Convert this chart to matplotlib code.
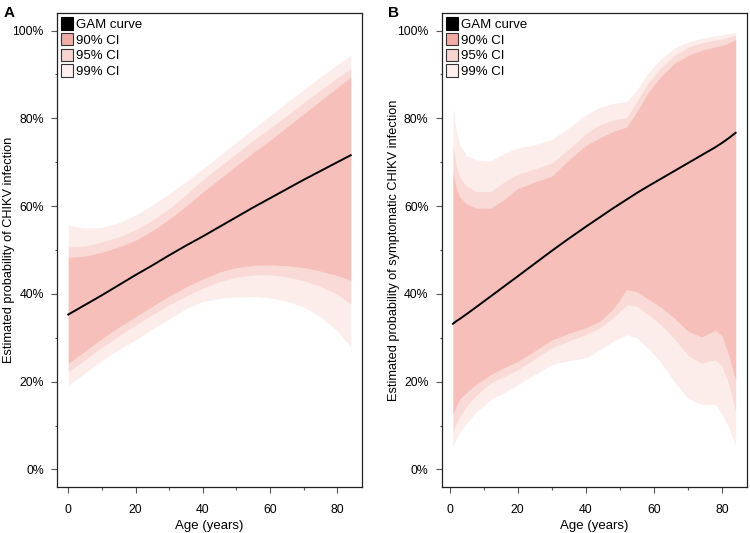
import matplotlib
matplotlib.use("Agg")
import matplotlib.pyplot as plt
from matplotlib.patches import Patch
from matplotlib.ticker import MultipleLocator, FuncFormatter

plt.rcParams['font.family'] = ['Liberation Sans', 'DejaVu Sans']

# Panel A: probability of CHIKV infection
age_a = [0, 5, 10, 15, 20, 25, 30, 35, 40, 45, 50, 55, 60, 65, 70, 75, 80, 84]
gam_a = [35.3, 37.5, 39.7, 42.0, 44.3, 46.5, 48.8, 51.0, 53.1, 55.3, 57.5, 59.7, 61.8, 63.9, 66.0, 68.0, 70.0, 71.6]
up90_a = [48.3, 48.6, 49.5, 50.7, 52.2, 54.4, 57.0, 60.0, 63.2, 66.2, 69.2, 72.2, 75.0, 78.0, 81.0, 84.0, 87.0, 89.4]
up95_a = [50.7, 50.9, 51.8, 53.0, 54.6, 56.8, 59.4, 62.6, 66.0, 69.0, 72.0, 75.0, 77.8, 80.6, 83.6, 86.4, 89.2, 91.3]
up99_a = [55.6, 55.0, 55.2, 56.2, 58.0, 60.2, 62.8, 65.6, 68.5, 71.5, 74.6, 77.6, 80.6, 83.6, 86.6, 89.4, 92.2, 94.3]
lo90_a = [24.2, 27.0, 29.8, 32.4, 34.8, 37.2, 39.5, 41.6, 43.4, 45.0, 46.0, 46.5, 46.6, 46.4, 46.0, 45.2, 44.2, 43.1]
lo95_a = [22.3, 25.0, 27.8, 30.4, 32.9, 35.3, 37.5, 39.5, 41.3, 42.8, 43.8, 44.3, 44.3, 43.9, 43.0, 41.7, 39.9, 37.7]
lo99_a = [19.2, 22.0, 24.8, 27.3, 29.5, 32.0, 34.3, 36.6, 38.3, 39.0, 39.3, 39.4, 39.1, 38.3, 37.0, 34.8, 31.6, 27.9]

# Panel B: probability of symptomatic CHIKV infection
age_b = [1, 2, 3, 5, 8, 12, 16, 20, 25, 30, 35, 40, 44, 48, 52, 55, 58, 62, 66, 70, 74, 78, 80, 82, 84]
gam_b = [33.2, 33.8, 34.3, 35.4, 37.1, 39.4, 41.7, 44.0, 46.9, 49.8, 52.6, 55.3, 57.4, 59.5, 61.5, 63.0, 64.4, 66.2, 68.0, 69.8, 71.6, 73.4, 74.4, 75.5, 76.7]
up90_b = [67.5, 64.0, 62.0, 60.5, 59.5, 59.5, 61.5, 64.0, 65.5, 66.8, 70.5, 73.8, 75.5, 77.0, 78.0, 81.5, 85.5, 89.5, 92.5, 94.3, 95.5, 96.3, 96.6, 97.2, 97.9]
up95_b = [73.5, 69.0, 66.5, 64.5, 63.3, 63.3, 65.5, 67.3, 68.5, 69.8, 73.0, 76.5, 78.5, 79.6, 80.2, 83.8, 87.8, 91.5, 94.3, 96.2, 97.2, 97.8, 98.1, 98.5, 98.9]
up99_b = [82.5, 77.0, 74.0, 71.5, 70.5, 70.3, 72.0, 73.2, 74.0, 75.2, 77.8, 80.8, 82.5, 83.4, 83.8, 86.5, 90.0, 93.5, 96.0, 97.4, 98.2, 98.8, 99.0, 99.3, 99.6]
lo90_b = [12.5, 14.5, 16.0, 17.6, 19.5, 21.6, 23.2, 24.6, 27.0, 29.5, 31.0, 32.3, 33.7, 36.5, 41.0, 40.5, 39.0, 37.0, 34.5, 31.5, 30.2, 31.7, 30.5, 26.0, 20.3]
lo95_b = [8.5, 10.5, 12.0, 14.5, 17.0, 19.7, 21.2, 22.7, 25.2, 27.7, 29.3, 30.7, 32.2, 34.5, 37.5, 37.2, 35.5, 33.0, 29.8, 26.0, 24.2, 25.0, 23.5, 19.5, 13.2]
lo99_b = [5.3, 7.0, 8.5, 10.5, 13.2, 15.9, 17.5, 19.3, 21.6, 23.9, 24.8, 25.4, 27.2, 29.2, 30.7, 30.0, 27.8, 24.5, 20.0, 16.2, 14.8, 14.8, 12.5, 9.5, 5.5]

c90 = '#f6bfba'
c95 = '#f9dad7'
c99 = '#fcedeb'

fig = plt.figure(figsize=(7.5, 5.33), dpi=100)
axA = fig.add_axes([0.076, 0.0863, 0.4067, 0.8893])
axB = fig.add_axes([0.5889, 0.0863, 0.407, 0.8893])


def panel(ax, age, gam, lo90, up90, lo95, up95, lo99, up99, ylabel, letter):
    ax.fill_between(age, lo99, up99, color=c99, lw=0)
    ax.fill_between(age, lo95, up95, color=c95, lw=0)
    ax.fill_between(age, lo90, up90, color=c90, lw=0)
    ax.plot(age, gam, color='black', lw=1.4)

    rng = max(age) - min(age)
    ax.set_xlim(min(age) - 0.04 * rng, max(age) + 0.04 * rng)
    ax.set_ylim(-4, 104)
    ax.xaxis.set_major_locator(MultipleLocator(20))
    ax.xaxis.set_minor_locator(MultipleLocator(10))
    ax.yaxis.set_major_locator(MultipleLocator(20))
    ax.yaxis.set_minor_locator(MultipleLocator(10))
    ax.yaxis.set_major_formatter(FuncFormatter(lambda v, p: '%d%%' % v))
    ax.tick_params(which='major', length=4.5, width=0.8, color='#555555', labelsize=8.8)
    ax.tick_params(which='minor', length=1.8, width=0.8, color='#555555')
    ax.tick_params(axis='x', pad=7.5)
    ax.tick_params(axis='y', pad=5.0)
    for s in ax.spines.values():
        s.set_linewidth(0.9)
        s.set_color('#222222')

    ax.set_xlabel('Age (years)', fontsize=9.5, labelpad=3)
    ax.set_ylabel(ylabel, fontsize=9.2)
    ax.yaxis.set_label_coords(-0.138, 0.5)

    handles = [Patch(facecolor='black', edgecolor='black', lw=0.8),
               Patch(facecolor='#f2aca6', edgecolor='#333333', lw=0.8),
               Patch(facecolor='#f8d4d0', edgecolor='#333333', lw=0.8),
               Patch(facecolor='#fdf0ee', edgecolor='#333333', lw=0.8)]
    ax.legend(handles, ['GAM curve', '90% CI', '95% CI', '99% CI'],
              loc='upper left', frameon=False, fontsize=9.5,
              handlelength=0.9, handleheight=1.1, handletextpad=0.25,
              labelspacing=0.15, borderaxespad=0.2, borderpad=0.1)
    ax.text(-0.175, 1.0, letter, transform=ax.transAxes, fontsize=11,
            fontweight='bold', va='center', ha='left')


panel(axA, age_a, gam_a, lo90_a, up90_a, lo95_a, up95_a, lo99_a, up99_a,
      'Estimated probability of CHIKV infection', 'A')
panel(axB, age_b, gam_b, lo90_b, up90_b, lo95_b, up95_b, lo99_b, up99_b,
      'Estimated probability of symptomatic CHIKV infection', 'B')

fig.savefig('out.png', dpi=100)
